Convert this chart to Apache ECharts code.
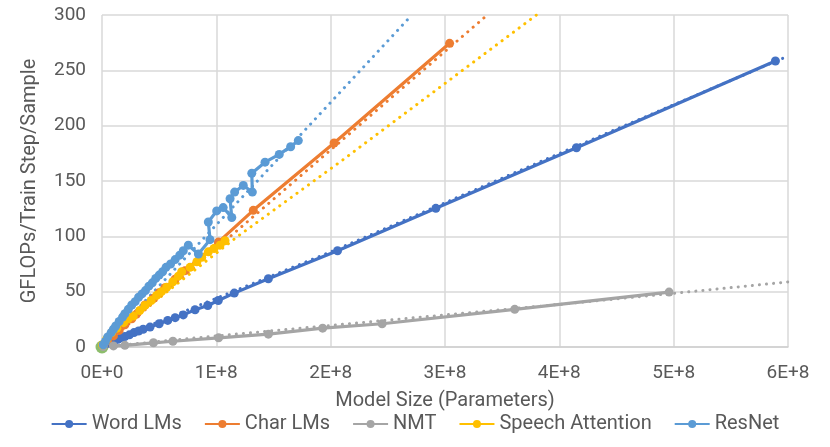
<!DOCTYPE html>
<html>
<head>
<meta charset="utf-8">
<script src="https://cdn.jsdelivr.net/npm/echarts@6/dist/echarts.min.js"></script>
<style>
html,body{margin:0;padding:0;background:#fff;}
#chart{width:830px;height:447px;}
</style>
</head>
<body>
<div id="chart"></div>
<script>
// ---- data (x = model size in parameters, y = GFLOPs/train step/sample) ----
const seriesNames = ['Word LMs', 'Char LMs', 'NMT', 'Speech Attention', 'ResNet'];
const xTickLabels = ['0E+0', '1E+8', '2E+8', '3E+8', '4E+8', '5E+8', '6E+8'];
const yTickLabels = ['0', '50', '100', '150', '200', '250', '300'];

const wordLMs = [[0.02e8,2],[0.05e8,3.5],[0.08e8,4.5],[0.11e8,6],[0.14e8,7],[0.17e8,8.5],[0.2e8,9.5],
  [0.24e8,11],[0.28e8,13],[0.32e8,14.5],[0.36e8,16],[0.42e8,18],[0.5e8,21],[0.575e8,24],[0.64e8,26.5],
  [0.711e8,29],[0.814e8,33.7],[0.925e8,37.5],[1.017e8,42],[1.157e8,48.7],[1.455e8,61.7],[2.06e8,87],
  [2.92e8,125.3],[4.15e8,180],[5.89e8,258.4]];
const charLMs = [[0.01e8,1.5],[0.05e8,5.5],[0.1e8,10],[0.15e8,15],[0.2e8,20],[0.26e8,25.5],[0.3e8,29.5],
  [0.376e8,38],[0.45e8,44],[0.5e8,49],[0.55e8,53.5],[0.639e8,61.3],[0.726e8,69],[1.018e8,94.8],
  [1.323e8,123.5],[2.03e8,184.3],[3.04e8,274.4]];
const nmt = [[0.01e8,0.5],[0.1e8,1],[0.2e8,1.5],[0.45e8,3.8],[0.62e8,5.2],[1.02e8,8.3],[1.455e8,11.6],
  [1.93e8,17],[2.45e8,21],[3.61e8,34],[4.96e8,49.6]];
const speechAttention = [[0.005e8,2],[0.04e8,7],[0.085e8,13],[0.13e8,17],[0.19e8,22],[0.23e8,25.5],
  [0.274e8,28],[0.33e8,33],[0.376e8,37.6],[0.43e8,42],[0.478e8,46.6],[0.52e8,50],[0.566e8,54],
  [0.62e8,59],[0.668e8,64],[0.697e8,68],[0.77e8,72],[0.83e8,77],[0.872e8,81],[0.93e8,86],
  [0.98e8,89],[1.032e8,92],[1.076e8,96]];
const resNet = [[0.01e8,2],[0.03e8,5],[0.05e8,9],[0.08e8,13],[0.1e8,16],[0.12e8,19],[0.15e8,23],
  [0.18e8,27],[0.2e8,30],[0.23e8,34],[0.26e8,38],[0.29e8,41],[0.32e8,45],[0.35e8,48],[0.38e8,51],
  [0.41e8,55],[0.44e8,58],[0.47e8,62],[0.5e8,65],[0.53e8,68],[0.56e8,72],[0.6e8,75],[0.64e8,79],
  [0.68e8,83],[0.711e8,87],[0.755e8,92],[0.843e8,84],[0.945e8,97],[0.93e8,113],[1.003e8,123],
  [1.06e8,126],[1.135e8,117],[1.12e8,134],[1.16e8,140],[1.236e8,146],[1.315e8,140],[1.31e8,157],
  [1.426e8,167],[1.55e8,174],[1.65e8,181],[1.717e8,186.5]];
const originPoint = [[0,0]];

// trend lines
const wordTrend = [[0,2],[2.06e8,88.5],[4.15e8,181.5],[5.98e8,262]];
const charTrend = [[0,0],[3.37e8,300]];
const nmtTrend = [[0,0],[1e8,10],[2e8,19.5],[3e8,29],[4e8,38.5],[5e8,48.5],[6e8,58.8]];
const speechTrend = [[0,0],[0.2e8,20],[1.18e8,99.4],[2.1e8,168.6],[3.8e8,300]];
const resNetTrend = [[0,0],[1.73e8,191],[2.71e8,300]];

const colors = ['#4472C4', '#ED7D31', '#A5A5A5', '#FFC000', '#5B9BD5'];
const textColor = '#595959';
const font = 'Roboto';

function dataSeries(name, data, color) {
  return {
    name: name, type: 'line', data: data, color: color,
    symbol: 'circle', symbolSize: 9, showSymbol: true,
    lineStyle: {width: 3.2, color: color}, itemStyle: {color: color},
    emphasis: {disabled: true}, animation: false
  };
}
function trendSeries(data, color) {
  return {
    type: 'line', data: data, symbol: 'none', silent: true, smooth: false,
    lineStyle: {width: 3, color: color, type: [0.1, 7], cap: 'round'},
    emphasis: {disabled: true}, animation: false, legendHoverLink: false
  };
}

const chart = echarts.init(document.getElementById('chart'));
chart.setOption({
  animation: false,
  textStyle: {fontFamily: font},
  grid: {left: 102, right: 42, top: 15, bottom: 100, containLabel: false},
  legend: {
    data: seriesNames, bottom: 8, left: 'center', itemWidth: 35, itemHeight: 10, itemGap: 22,
    textStyle: {color: textColor, fontSize: 20, fontFamily: font}
  },
  xAxis: {
    type: 'value', min: 0, max: 6e8, interval: 1e8,
    name: 'Model Size (Parameters)', nameLocation: 'middle', nameGap: 44,
    nameTextStyle: {color: textColor, fontSize: 20, fontFamily: font},
    axisLine: {show: true, lineStyle: {color: '#d0d0d0', width: 1.5}},
    axisTick: {show: false},
    splitLine: {show: true, lineStyle: {color: '#d9d9d9', width: 1.5}},
    axisLabel: {color: textColor, fontSize: 19, margin: 17, fontFamily: font,
      formatter: (v, i) => xTickLabels[Math.round(v / 1e8)]}
  },
  yAxis: {
    type: 'value', min: 0, max: 300, interval: 50,
    name: 'GFLOPs/Train Step/Sample', nameLocation: 'middle', nameGap: 62,
    nameTextStyle: {color: textColor, fontSize: 20, fontFamily: font},
    axisLine: {show: false}, axisTick: {show: false},
    splitLine: {show: true, lineStyle: {color: '#d9d9d9', width: 1.5}},
    axisLabel: {color: textColor, fontSize: 19, margin: 16, fontFamily: font,
      formatter: (v) => yTickLabels[Math.round(v / 50)]}
  },
  series: [
    {type: 'scatter', data: originPoint, symbolSize: 13, itemStyle: {color: '#70AD47'}, silent: true, animation: false},
    dataSeries(seriesNames[0], wordLMs, colors[0]),
    dataSeries(seriesNames[1], charLMs, colors[1]),
    dataSeries(seriesNames[2], nmt, colors[2]),
    dataSeries(seriesNames[3], speechAttention, colors[3]),
    dataSeries(seriesNames[4], resNet, colors[4]),
    trendSeries(wordTrend, colors[0]),
    trendSeries(charTrend, colors[1]),
    trendSeries(nmtTrend, colors[2]),
    trendSeries(speechTrend, colors[3]),
    trendSeries(resNetTrend, colors[4])
  ]
});
</script>
</body>
</html>
